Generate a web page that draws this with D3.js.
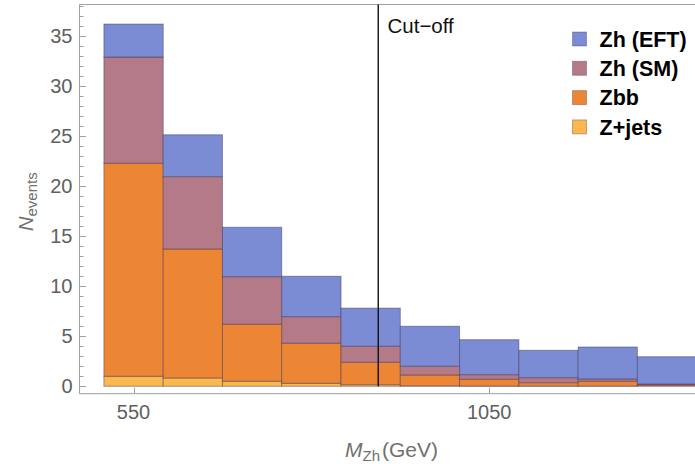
<!DOCTYPE html>
<html>
<head>
<meta charset="utf-8">
<script src="https://cdn.jsdelivr.net/npm/d3@7"></script>
<style>
  body { margin: 0; background: #fff; }
  svg { display: block; font-family: "Liberation Sans", Arial, sans-serif; }
</style>
</head>
<body>
<svg id="chart" width="695" height="464"></svg>
<script>
// ── Data ──────────────────────────────────────────────────────────────────────
const binEdges = [508.3, 591.7, 675, 758.3, 841.7, 925, 1008.3, 1091.7, 1175, 1258.3, 1341.7];
const zJets  = [1.0, 0.83, 0.5, 0.3, 0.16, 0.05, 0.02, 0.02, 0.02, 0];
const zbb    = [21.26, 12.87, 5.7, 4.0, 2.24, 1.08, 0.68, 0.34, 0.48, 0.13];
const zhSM   = [10.6, 7.22, 4.74, 2.65, 1.6, 0.87, 0.46, 0.5, 0.23, 0.1];
const zhEFT  = [3.29, 4.18, 4.93, 4.03, 3.8, 3.99, 3.49, 2.73, 3.19, 2.72];
const seriesKeys   = ['zjets', 'zbb', 'sm', 'eft'];
const seriesLabels = { eft: 'Zh (EFT)', sm: 'Zh (SM)', zbb: 'Zbb', zjets: 'Z+jets' };
const seriesColors = { eft: '#7b8bd4', sm: '#b47a88', zbb: '#ec8635', zjets: '#fbb84f' };
const legendOrder  = ['eft', 'sm', 'zbb', 'zjets'];
const yTicks = [0, 5, 10, 15, 20, 25, 30, 35];
const xTicks = [550, 1050];
const cutOff = 894;

const rows = zJets.map((_, i) => ({
	x0: binEdges[i], x1: binEdges[i + 1],
	zjets: zJets[i], zbb: zbb[i], sm: zhSM[i], eft: zhEFT[i]
}));

// ── Scales ────────────────────────────────────────────────────────────────────
const svg = d3.select('#chart');
const x = d3.scaleLinear().domain([474, 1340]).range([79.5, 695.5]);
const y = d3.scaleLinear().domain([-0.74, 38.05]).range([393.7, 5]);

const stacked = d3.stack().keys(seriesKeys)(rows);

// ── Bars ──────────────────────────────────────────────────────────────────────
const barsG = svg.append('g');
stacked.forEach(layer => {
	barsG.selectAll(null)
		.data(layer)
		.join('rect')
		.attr('x', d => x(d.data.x0))
		.attr('width', d => x(d.data.x1) - x(d.data.x0))
		.attr('y', d => y(d[1]))
		.attr('height', d => Math.max(0, y(d[0]) - y(d[1])))
		.attr('fill', seriesColors[layer.key])
		.attr('stroke', '#3a3050')
		.attr('stroke-opacity', 0.45)
		.attr('stroke-width', 1);
});

// ── Frame + axes ──────────────────────────────────────────────────────────────
const axisColor = '#a0a0a0';
const frame = svg.append('g').attr('stroke', axisColor).attr('stroke-width', 1).attr('fill', 'none');
frame.append('line').attr('x1', 79.5).attr('x2', 695).attr('y1', 4.5).attr('y2', 4.5);
frame.append('line').attr('x1', 79.5).attr('x2', 79.5).attr('y1', 4.5).attr('y2', 393.7);
frame.append('line').attr('x1', 79.5).attr('x2', 695).attr('y1', 393.7).attr('y2', 393.7);

// y ticks
const minorY = d3.range(0, 39, 1).filter(v => v % 5 !== 0);
frame.selectAll('.ymin').data(minorY).join('line')
	.attr('x1', 79.5).attr('x2', 83.5)
	.attr('y1', d => Math.round(y(d)) + 0.5).attr('y2', d => Math.round(y(d)) + 0.5);
frame.selectAll('.ymaj').data(yTicks).join('line')
	.attr('x1', 79.5).attr('x2', 86)
	.attr('y1', d => Math.round(y(d)) + 0.5).attr('y2', d => Math.round(y(d)) + 0.5);
svg.append('g').selectAll('text').data(yTicks).join('text')
	.attr('x', 72.5).attr('y', d => y(d))
	.attr('dy', '0.36em')
	.attr('text-anchor', 'end')
	.attr('font-size', 20)
	.attr('fill', '#606060')
	.text(d => d);

// x ticks
frame.selectAll('.xmaj').data(xTicks).join('line')
	.attr('x1', d => Math.round(x(d)) + 0.5).attr('x2', d => Math.round(x(d)) + 0.5)
	.attr('y1', 393.7).attr('y2', 387.5);
svg.append('g').selectAll('text').data(xTicks).join('text')
	.attr('x', d => x(d)).attr('y', 419)
	.attr('text-anchor', 'middle')
	.attr('font-size', 20)
	.attr('fill', '#606060')
	.text(d => d);

// ── Cut-off line ──────────────────────────────────────────────────────────────
svg.append('line')
	.attr('x1', x(cutOff)).attr('x2', x(cutOff))
	.attr('y1', 4.5).attr('y2', y(0))
	.attr('stroke', '#111').attr('stroke-width', 1.4);
svg.append('text')
	.attr('x', 387.5).attr('y', 33)
	.attr('font-size', 20.5)
	.attr('fill', '#111')
	.text('Cut\u2212off');

// ── Axis labels ───────────────────────────────────────────────────────────────
const xl = svg.append('text')
	.attr('x', 345).attr('y', 457)
	.attr('font-size', 21)
	.attr('fill', '#707070');
xl.append('tspan').attr('font-style', 'italic').text('M');
xl.append('tspan').attr('font-size', 15).attr('dy', 4).text('Zh');
xl.append('tspan').attr('dy', -4).attr('dx', 2).text('(GeV)');

const yl = svg.append('text')
	.attr('transform', 'translate(33,231) rotate(-90)')
	.attr('font-size', 20)
	.attr('fill', '#707070');
yl.append('tspan').attr('font-style', 'italic').text('N');
yl.append('tspan').attr('font-size', 15).attr('dy', 4).text('events');

// ── Legend ────────────────────────────────────────────────────────────────────
const legend = svg.append('g');
legendOrder.forEach((k, i) => {
	const cy = 39 + i * 29.3;
	legend.append('rect')
		.attr('x', 572.5).attr('y', cy - 7)
		.attr('width', 14).attr('height', 14)
		.attr('fill', seriesColors[k])
		.attr('stroke', '#3a3050').attr('stroke-opacity', 0.35);
	legend.append('text')
		.attr('x', 599.5).attr('y', cy)
		.attr('dy', '0.36em')
		.attr('font-size', 21.5)
		.attr('font-weight', 'bold')
		.attr('fill', '#000')
		.text(seriesLabels[k]);
});
</script>
</body>
</html>
